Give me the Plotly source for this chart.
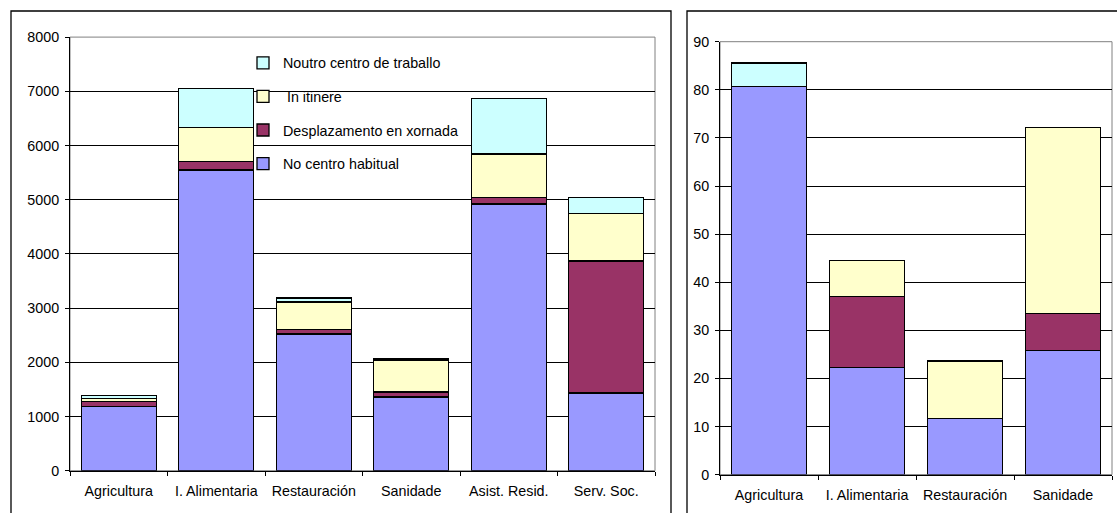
import plotly.graph_objects as go

W, H = 1117, 513

# Left chart data
cats_left = ["Agricultura", "I. Alimentaria", "Restauración", "Sanidade", "Asist. Resid.", "Serv. Soc."]
no_centro_left = [1190, 5550, 2520, 1360, 4920, 1435]
desplaz_left = [90, 150, 80, 90, 125, 2435]
itinere_left = [50, 635, 510, 590, 800, 880]
noutro_left = [60, 720, 75, 25, 1020, 295]

# Right chart data (None = no value in that category)
cats_right = ["Agricultura", "I. Alimentaria", "Restauración", "Sanidade"]
no_centro_right = [80.7, 22.2, 11.7, 25.8]
desplaz_right = [None, 14.8, None, 7.7]
itinere_right = [None, 7.5, 11.9, 38.7]
noutro_right = [4.9, None, None, None]

series_names = ["No centro habitual", "Desplazamento en xornada", " In itinere", "Noutro centro de traballo"]
colors = ["#9999FF", "#993366", "#FFFFCC", "#CCFFFF"]

FONT = "Liberation Sans, Arial, sans-serif"
FS = 14.3

fig = go.Figure()
left_series = [no_centro_left, desplaz_left, itinere_left, noutro_left]
right_series = [no_centro_right, desplaz_right, itinere_right, noutro_right]
for i, (name, col) in enumerate(zip(series_names, colors)):
    fig.add_trace(go.Bar(x=cats_left, y=left_series[i], name=name,
                         marker=dict(color=col, line=dict(color="black", width=1.3)),
                         xaxis="x", yaxis="y", legendgroup=f"g{i}", legendrank=10 - i, showlegend=True))
for i, (name, col) in enumerate(zip(series_names, colors)):
    fig.add_trace(go.Bar(x=cats_right, y=right_series[i], name=name,
                         marker=dict(color=col, line=dict(color="black", width=1.3)),
                         xaxis="x2", yaxis="y2", legendgroup=f"g{i}", showlegend=False))

def px(x):
    return x / W

def py(y):
    return 1 - y / H

axis_common = dict(showline=True, linecolor="black", linewidth=1, ticks="outside", ticklen=4, tickcolor="black",
                   tickfont=dict(family=FONT, size=FS, color="black"), zeroline=False, automargin=False)

fig.update_layout(
    template="none",
    width=W, height=H, margin=dict(l=0, r=0, t=0, b=0, pad=0), autosize=False,
    paper_bgcolor="white", plot_bgcolor="white",
    barmode="stack", bargap=0.23,
    font=dict(family=FONT, size=FS, color="black"),
    xaxis=dict(domain=[px(70), px(655)], anchor="y", tickson="boundaries", showgrid=False,
               ticklabelstandoff=7, **axis_common),
    yaxis=dict(domain=[py(470.7), py(37.1)], anchor="x", range=[0, 8000], dtick=1000, showgrid=True,
               gridcolor="black", gridwidth=1, ticklabelstandoff=3, **axis_common),
    xaxis2=dict(domain=[px(720), px(1112)], anchor="y2", tickson="boundaries", showgrid=False,
                ticklabelstandoff=7, **axis_common),
    yaxis2=dict(domain=[py(474.6), py(41.7)], anchor="x2", range=[0, 90], dtick=10, showgrid=True,
                gridcolor="black", gridwidth=1, ticklabelstandoff=3, **axis_common),
    legend=dict(x=px(243), y=py(47), xanchor="left", yanchor="top", traceorder="grouped",
                tracegroupgap=12, bgcolor="rgba(0,0,0,0)", borderwidth=0,
                font=dict(family=FONT, size=FS, color="black")),
    showlegend=True,
    shapes=[
        # plot area borders (gray)
        dict(type="rect", xref="paper", yref="paper", x0=px(70), x1=px(655), y0=py(470.7), y1=py(37.1),
             line=dict(color="#808080", width=1), layer="below"),
        dict(type="rect", xref="paper", yref="paper", x0=px(720), x1=px(1112), y0=py(474.6), y1=py(41.7),
             line=dict(color="#808080", width=1), layer="below"),
        # panel frames
        dict(type="rect", xref="paper", yref="paper", x0=px(11), x1=px(671), y0=py(520), y1=py(11),
             line=dict(color="black", width=1.3)),
        dict(type="rect", xref="paper", yref="paper", x0=px(687), x1=px(1125), y0=py(520), y1=py(11),
             line=dict(color="black", width=1.3)),
    ],
)

fig.write_html("out.html", config={"displayModeBar": False},
               post_script="document.body.style.margin='0';document.body.style.overflow='hidden';")
